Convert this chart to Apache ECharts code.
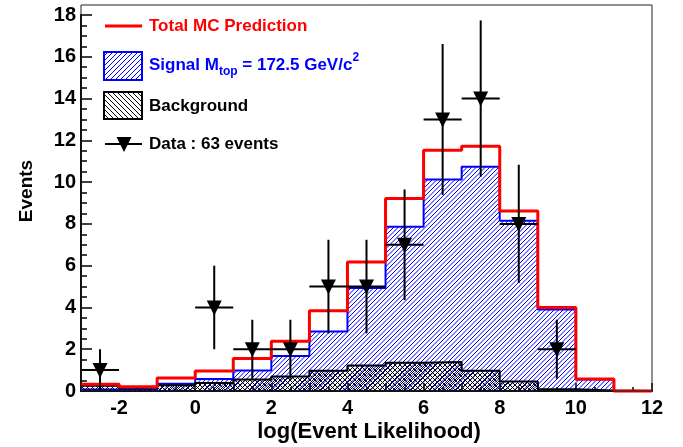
<!DOCTYPE html>
<html><head><meta charset="utf-8">
<script src="https://cdn.jsdelivr.net/npm/echarts@6/dist/echarts.min.js"></script>
<style>html,body{margin:0;padding:0;background:#fff}#c{width:683px;height:447px}</style>
</head><body><div id="c"></div>
<script>
// ---- data ----
const binEdges = [-3,-2,-1,0,1,2,3,4,5,6,7,8,9,10,11,12];
const totalMC    = [0.32, 0.20, 0.62, 0.96, 1.55, 2.38, 3.84, 6.18, 9.22, 11.53, 11.72, 8.62, 4.00, 0.57, 0.00];
const signal     = [0.07, 0.05, 0.35, 0.57, 0.98, 1.68, 2.85, 4.93, 7.86, 10.13, 10.73, 8.15, 3.90, 0.55, 0.00];
const background = [0.25, 0.15, 0.27, 0.38, 0.55, 0.69, 0.97, 1.22, 1.35, 1.39, 0.97, 0.46, 0.08, 0.02, 0.00];
const dataX   = [-2.5, 0.5, 1.5, 2.5, 3.5, 4.5, 5.5, 6.5, 7.5, 8.5, 9.5];
const dataY   = [1, 4, 2, 2, 5, 5, 7, 13, 14, 8, 2];
const dataErr = [1.0, 2.0, 1.41, 1.41, 2.24, 2.24, 2.65, 3.61, 3.74, 2.83, 1.41];
const xTickLabels = ['-2','0','2','4','6','8','10','12'];
const yTickLabels = ['0','2','4','6','8','10','12','14','16','18'];

const F = "'Liberation Sans', Arial, Helvetica, sans-serif";

function stepData(vals){
  const out = vals.map((v,i)=>[binEdges[i], v]);
  out.push([binEdges[vals.length], vals[vals.length-1]]);
  return out;
}
// tile of size `size` holding `n` diagonal lines per direction (period = size/n)
function hatch(size, n, color, lw, dirs){
  const c = document.createElement('canvas');
  c.width = size; c.height = size;
  const g = c.getContext('2d');
  g.strokeStyle = color; g.lineWidth = lw; g.lineCap = 'butt';
  const p = size / n;
  g.beginPath();
  for (let k = -n - 1; k <= 2*n + 1; k++){
    const o = k * p;
    if (dirs.indexOf('/') >= 0){ g.moveTo(o - size, 2*size); g.lineTo(o + 2*size, -size); }
    if (dirs.indexOf('\\') >= 0){ g.moveTo(o - size, -size); g.lineTo(o + 2*size, 2*size); }
  }
  g.stroke();
  return c;
}
const blueHatch = {image: hatch(9, 2, '#0000ff', 1, '/'), repeat: 'repeat'};
const bkgHatch  = {image: hatch(10, 2, '#000000', 1, '/\\'), repeat: 'repeat'};
const legBlue   = {image: hatch(10, 2, '#0000ff', 1, '/'), repeat: 'repeat'};
const legBkg    = {image: hatch(10, 2, '#000000', 1, '\\'), repeat: 'repeat'};

const chart = echarts.init(document.getElementById('c'), null, {renderer:'canvas'});

const labelStyle = {color:'#000', fontSize:20, fontWeight:'bold', fontFamily:F};

chart.setOption({
  animation: false,
  backgroundColor: '#fff',
  grid: {left:81, right:31, top:15, bottom:56},
  xAxis: {
    type:'value', min:-3, max:12, interval:1,
    axisLine:{show:true, onZero:false, lineStyle:{color:'#000', width:2}},
    axisTick:{show:true, inside:true, length:8, lineStyle:{color:'#000', width:1.5}},
    minorTick:{show:true, splitNumber:2, length:4, lineStyle:{color:'#000', width:1.5}},
    splitLine:{show:false},
    axisLabel:Object.assign({margin:7, formatter: v => (xTickLabels.indexOf(String(v)) >= 0 ? String(v) : '')}, labelStyle)
  },
  yAxis: {
    type:'value', min:0, max:18, interval:2,
    axisLine:{show:true, onZero:false, lineStyle:{color:'#000', width:2}},
    axisTick:{show:true, inside:true, length:11, lineStyle:{color:'#000', width:1.5}},
    minorTick:{show:true, splitNumber:4, length:6, lineStyle:{color:'#000', width:1.5}},
    splitLine:{show:false},
    axisLabel:Object.assign({margin:5, formatter: v => (yTickLabels.indexOf(String(v)) >= 0 ? String(v) : '')}, labelStyle)
  },
  series: [
    {type:'line', step:'end', data: stepData(signal), showSymbol:false, clip:false, z:2,
     lineStyle:{color:'#0000ff', width:2}, areaStyle:{color: blueHatch, opacity:1}},
    {type:'line', step:'end', data: stepData(background), showSymbol:false, clip:false, z:3,
     lineStyle:{color:'#000', width:2}, areaStyle:{color: bkgHatch, opacity:1}},
    {type:'line', step:'end', data: stepData(totalMC), showSymbol:false, clip:false, z:4,
     lineStyle:{color:'#ff0000', width:3}},
    {type:'custom', z:5, clip:false,
     data: dataX.map((x,i)=>[x, dataY[i], dataErr[i]]),
     encode:{x:0, y:1},
     renderItem: function(params, api){
       const x = api.value(0), y = api.value(1), e = api.value(2);
       const c = api.coord([x, y]);
       const top = api.coord([x, y+e]);
       const bot = api.coord([x, Math.max(0, y-e)]);
       const l = api.coord([x-0.5, y]);
       const r = api.coord([x+0.5, y]);
       return {type:'group', children:[
         {type:'line', shape:{x1:c[0], y1:top[1], x2:c[0], y2:bot[1]}, style:{stroke:'#000', lineWidth:2}},
         {type:'line', shape:{x1:l[0], y1:c[1], x2:r[0], y2:c[1]}, style:{stroke:'#000', lineWidth:2}},
         {type:'polygon', shape:{points:[[c[0]-7.5, c[1]-7],[c[0]+7.5, c[1]-7],[c[0], c[1]+8]]}, style:{fill:'#000'}}
       ]};
     }}
  ],
  graphic: [
    {type:'rect', z:10, shape:{x:81, y:5, width:571, height:386}, style:{fill:'none', stroke:'#222', lineWidth:1}},
    {type:'text', z:10, x:369, y:432, style:{text:'log(Event Likelihood)', fill:'#000', font:'bold 22px ' + F, textAlign:'center', textVerticalAlign:'middle'}},
    {type:'text', z:10, x:27, y:191, rotation:Math.PI/2, style:{text:'Events', fill:'#000', font:'bold 19px ' + F, textAlign:'center', textVerticalAlign:'middle'}},
    {type:'line', z:10, shape:{x1:105, y1:26, x2:142, y2:26}, style:{stroke:'#ff0000', lineWidth:3}},
    {type:'text', z:10, x:149, y:26, style:{text:'Total MC Prediction', fill:'#ff0000', font:'bold 17px ' + F, textVerticalAlign:'middle'}},
    {type:'rect', z:10, shape:{x:104, y:52, width:38, height:28}, style:{fill: legBlue, stroke:'#0000ff', lineWidth:2}},
    {type:'text', z:10, x:149, y:65, style:{
      text:'{a|Signal M}{s|top}{a| = 172.5 GeV/c}{p|2}', textVerticalAlign:'middle',
      rich:{
        a:{fill:'#0000ff', fontSize:17, fontWeight:'bold', fontFamily:F, lineHeight:26, verticalAlign:'middle'},
        s:{fill:'#0000ff', fontSize:12, fontWeight:'bold', fontFamily:F, lineHeight:12, verticalAlign:'bottom'},
        p:{fill:'#0000ff', fontSize:12, fontWeight:'bold', fontFamily:F, lineHeight:12, verticalAlign:'top'}
      }}},
    {type:'rect', z:10, shape:{x:104, y:92, width:38, height:27}, style:{fill: legBkg, stroke:'#000', lineWidth:2}},
    {type:'text', z:10, x:149, y:106, style:{text:'Background', fill:'#000', font:'bold 17px ' + F, textVerticalAlign:'middle'}},
    {type:'line', z:10, shape:{x1:105, y1:144, x2:142, y2:144}, style:{stroke:'#000', lineWidth:2}},
    {type:'polygon', z:10, shape:{points:[[116.5,137],[131.5,137],[124,152]]}, style:{fill:'#000'}},
    {type:'text', z:10, x:149, y:144, style:{text:'Data : 63 events', fill:'#000', font:'bold 17px ' + F, textVerticalAlign:'middle'}}
  ]
});
</script>
</body></html>
